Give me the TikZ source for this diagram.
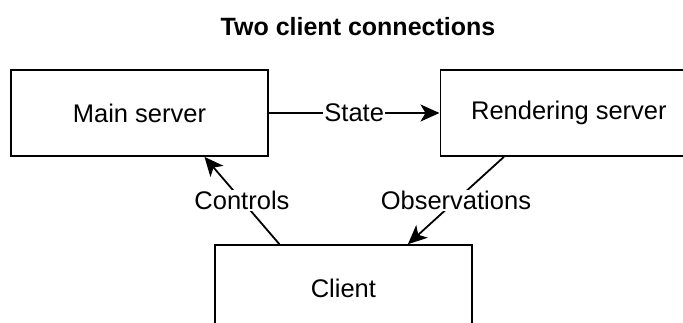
\documentclass[tikz,border=0pt]{standalone}
\usepackage{fontspec}
\setmainfont{Liberation Sans}
\usetikzlibrary{arrows.meta, positioning, calc}

\begin{document}
\begin{tikzpicture}[x=1pt, y=1pt, line width=1.8pt,
  font=\fontsize{25.5pt}{30pt}\selectfont,
  box/.style={rectangle, draw, minimum width=257pt, minimum height=86pt, inner sep=0pt},
  link/.style={-{Stealth[length=19pt, width=17pt, inset=5pt]}},
  tag/.style={fill=white, inner sep=1pt}]
  \useasboundingbox (0,0) rectangle (683,-322);
  \node[font=\fontsize{25pt}{30pt}\selectfont\bfseries] (title) at (358,-27) {Two client connections};
  \node[box] (M) at (139.5,-113) {Main server};
  \node[box, right=170.6pt of M] (R) {Rendering server};
  \node[box, below=87.3pt of $(M.south)!0.5!(R.south)$, xshift=-10.8pt] (C) {Client};
  \draw[link] (M) -- node[tag] {State} (R);
  \draw[link] ([xshift=-64pt]C.north) -- node[tag] {Controls} ([xshift=65pt]M.south);
  \draw[link] ([xshift=-65pt]R.south) -- node[tag] {Observations} ([xshift=64.5pt]C.north);
\end{tikzpicture}
\end{document}
